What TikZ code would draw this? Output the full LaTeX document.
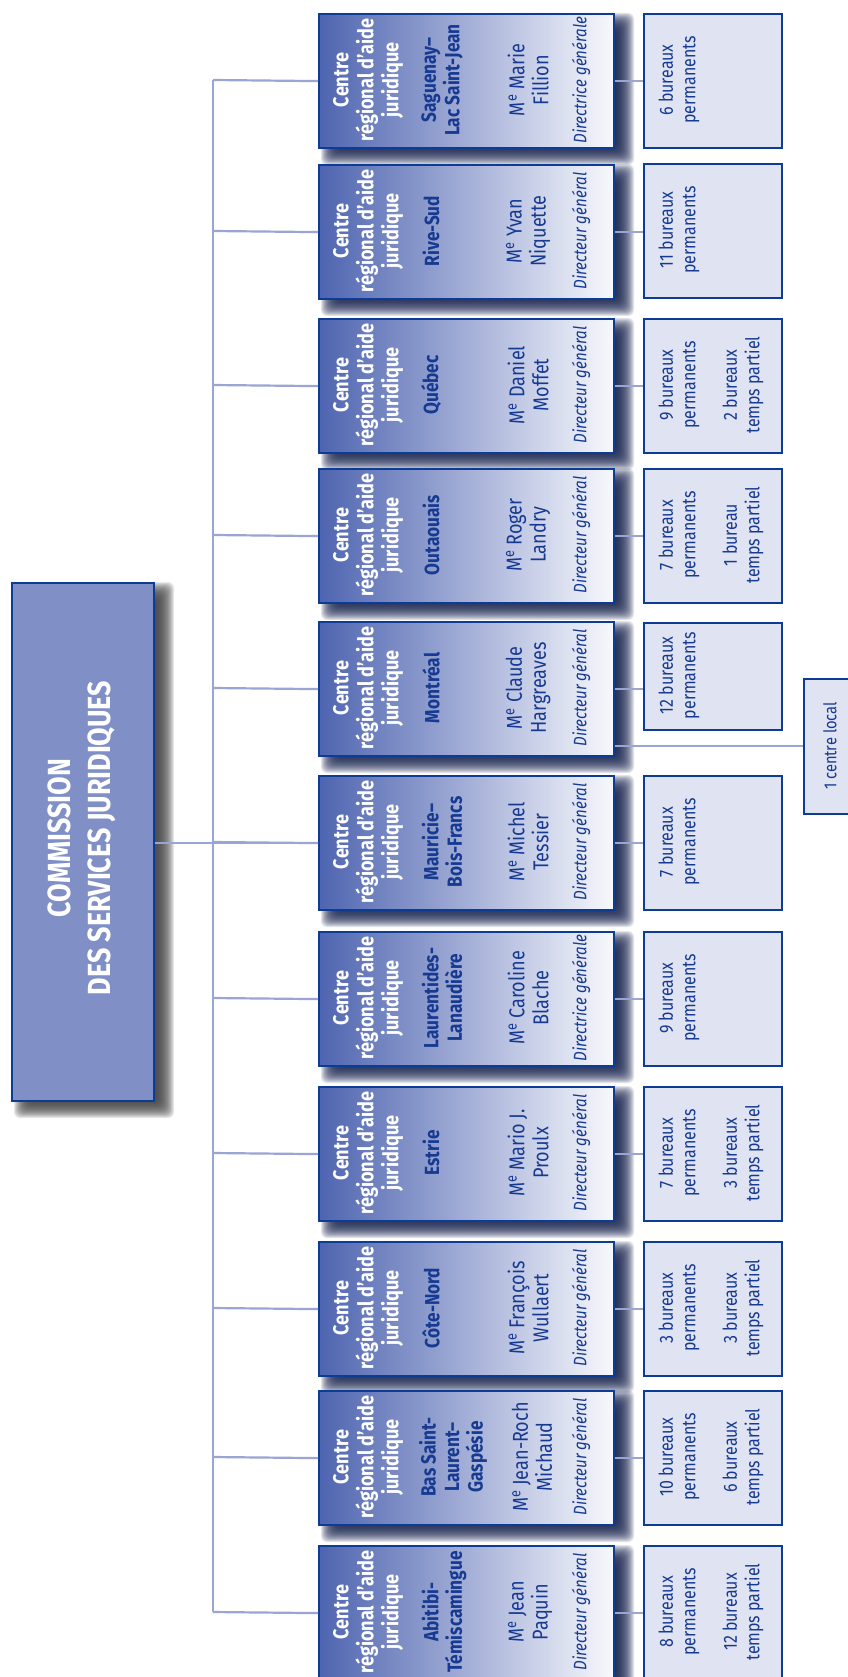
\documentclass[tikz,border=0pt]{standalone}
\usepackage{fontspec}
\setmainfont{Fira Sans}[FakeStretch=0.84]
\usetikzlibrary{calc}
\definecolor{bordc}{RGB}{12,60,148}
\definecolor{txtc}{RGB}{22,58,145}
\definecolor{gradL}{RGB}{78,100,176}
\definecolor{gradR}{RGB}{248,249,253}
\definecolor{mainfill}{RGB}{128,144,198}
\definecolor{smallfill}{RGB}{224,227,242}
\definecolor{conn}{RGB}{155,165,212}
\definecolor{shadc}{RGB}{25,36,80}
\newcommand\me{M\textsuperscript{e}}
\newcommand\softshadow[5]{%
  \foreach \k in {-9,...,9}{%
    \fill[#5, opacity=0.12, rounded corners=6pt] (#1+12-\k, #2+9-\k) rectangle (#3+12+\k, #4+9+\k);
  }%
}
\tikzset{
  regionbox/.style={draw=bordc, line width=2.2pt, left color=gradL, right color=gradR,
    minimum width=295pt, minimum height=#1, inner sep=0pt, anchor=north west},
  smallbox/.style={draw=bordc, line width=2.2pt, fill=smallfill,
    minimum width=138pt, minimum height=#1, inner sep=0pt, anchor=north west},
  mainbox/.style={draw=bordc, line width=2.2pt, fill=mainfill,
    minimum width=142pt, minimum height=518pt, inner sep=0pt, anchor=north west},
  hdr/.style={rotate=90, align=center, inner sep=0pt, text=white,
    font=\bfseries\fontsize{21.5}{25}\selectfont},
  rname/.style={rotate=90, align=center, inner sep=0pt, text=txtc,
    font=\bfseries\fontsize{20.5}{23.5}\selectfont},
  pname/.style={rotate=90, align=center, inner sep=0pt, text=txtc,
    font=\fontsize{21.5}{24}\selectfont},
  ptitle/.style={rotate=90, align=center, inner sep=0pt, text=txtc,
    font=\itshape\fontsize{18}{22}\selectfont},
  stext/.style={rotate=90, align=center, inner sep=0pt, text=txtc,
    font=\fontsize{19}{22.5}\selectfont},
  maintext/.style={rotate=90, align=center, inner sep=0pt, text=white,
    font=\bfseries\fontsize{32}{40}\selectfont},
  link/.style={draw=conn, line width=2.2pt}
}
\begin{document}
\begin{tikzpicture}[x=1pt,y=-1pt]
\useasboundingbox (0,0) rectangle (847,1677);
\fill[white] (0,0) rectangle (847,1677);

% shadows
\softshadow{11}{582}{153}{1100}{black!75}
\foreach \t/\h in {13/134,164/134,318/134,468/134,621/134,775/134,931/134,1086/134,1241/134,1390/134,1545/134}{
  \softshadow{318}{\t}{613}{\t+\h}{shadc}
}

% main box
\node[mainbox] (main) at (11,582) {};
\node[maintext] (maint) at (82,838) {COMMISSION\\DES SERVICES JURIDIQUES};

% region boxes
\foreach \i/\t/\nm/\nx/\pn/\px/\ti in {
  1/13/{Saguenay–\\Lac Saint-Jean}/442/{\me\ Marie\\Fillion}/528/{Directrice générale},
  2/164/{Rive-Sud}/431/{\me\ Yvan\\Niquette}/528/{Directeur général},
  3/318/{Québec}/431/{\me\ Daniel\\Moffet}/528/{Directeur général},
  4/468/{Outaouais}/431/{\me\ Roger\\Landry}/528/{Directeur général},
  5/621/{Montréal}/431/{\me\ Claude\\Hargreaves}/528/{Directeur général},
  6/775/{Mauricie–\\Bois-Francs}/442/{\me\ Michel\\Tessier}/528/{Directeur général},
  7/931/{Laurentides-\\Lanaudière}/442/{\me\ Caroline\\Blache}/528/{Directrice générale},
  8/1086/{Estrie}/431/{\me\ Mario J.\\Proulx}/528/{Directeur général},
  9/1241/{Côte-Nord}/431/{\me\ François\\Wullaert}/528/{Directeur général},
  10/1390/{Bas Saint-\\Laurent–\\Gaspésie}/453/{\me\ Jean-Roch\\Michaud}/532/{Directeur général},
  11/1545/{Abitibi-\\Témiscamingue}/444/{\me\ Jean\\Paquin}/530/{Directeur général}}{
  \pgfmathsetmacro\c{\t+67}
  \node[regionbox=134pt] (r\i) at (318,\t) {};
  \node[hdr] (h\i) at (368,\c) {Centre\\régional d’aide\\juridique};
  \node[rname] (n\i) at (\nx,\c) {\nm};
  \node[pname] (p\i) at (\px,\c) {\pn};
  \node[ptitle] (d\i) at (581,\c) {\ti};
  \coordinate (t\i) at (213,\c);
  \draw[link] (t\i) -- (r\i.west);
}

% trunk and main link
\draw[link] (t1) -- (t11);
\draw[link] (main.east |- r6.west) -- (r6.west);

% small boxes, single group
\foreach \i/\t/\h/\a in {
  1/13/134/{6 bureaux\\permanents},
  2/163/134/{11 bureaux\\permanents},
  5/622/107/{12 bureaux\\permanents},
  6/775/134/{7 bureaux\\permanents},
  7/931/134/{9 bureaux\\permanents}}{
  \pgfmathsetmacro\c{\t+\h/2}
  \node[smallbox=\h pt] (s\i) at (643,\t) {};
  \node[stext] (sa\i) at (679,\c) {\a};
  \draw[link] (r\i.east) -- (r\i.east -| s\i.west);
}
% small boxes, two groups
\foreach \i/\t/\h/\a/\b in {
  3/318/134/{9 bureaux\\permanents}/{2 bureaux\\temps partiel},
  4/468/134/{7 bureaux\\permanents}/{1 bureau\\temps partiel},
  8/1086/134/{7 bureaux\\permanents}/{3 bureaux\\temps partiel},
  9/1241/134/{3 bureaux\\permanents}/{3 bureaux\\temps partiel},
  10/1390/134/{10 bureaux\\permanents}/{6 bureaux\\temps partiel},
  11/1545/134/{8 bureaux\\permanents}/{12 bureaux\\temps partiel}}{
  \pgfmathsetmacro\c{\t+\h/2}
  \node[smallbox=\h pt] (s\i) at (643,\t) {};
  \node[stext] (sa\i) at (679,\c) {\a};
  \node[stext] (sb\i) at (743,\c) {\b};
  \draw[link] (r\i.east) -- (r\i.east -| s\i.west);
}

% centre local
\node[smallbox=135pt, minimum width=50pt] (cl) at (803,678) {};
\node[stext, font=\fontsize{17.5}{20}\selectfont] (clt) at (830,746) {1 centre local};
\coordinate (m5) at ($(r5.east)+(0,57)$);
\draw[link] (m5) -- (m5 -| cl.west);
\end{tikzpicture}
\end{document}
